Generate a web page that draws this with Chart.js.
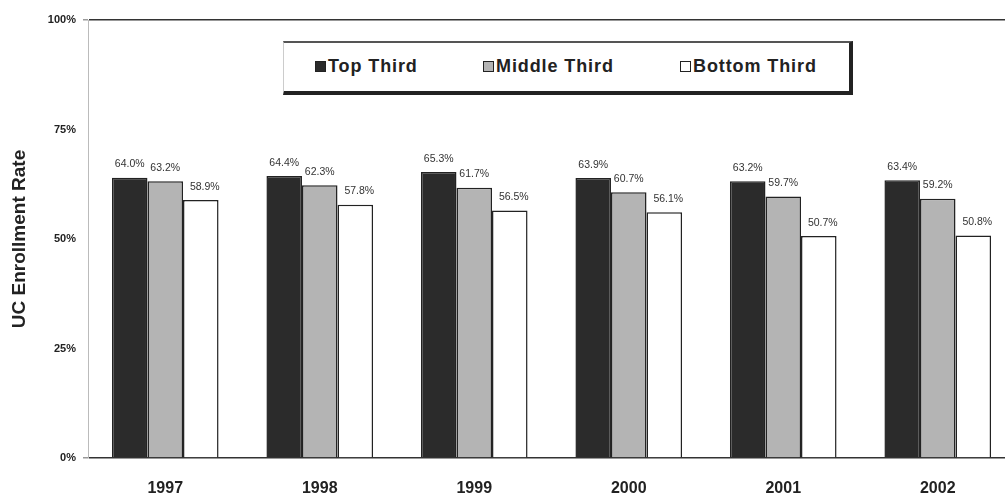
<!DOCTYPE html>
<html>
<head>
<meta charset="utf-8">
<script src="https://cdn.jsdelivr.net/npm/chart.js@4"></script>
<style>
  html, body { margin: 0; padding: 0; background: #fff; overflow: hidden; }
  #wrap { position: absolute; left: 0; top: 0; width: 1020px; height: 498px; }
  #legend {
    position: absolute; left: 283px; top: 41px; width: 565px; height: 48px;
    border-top: 2px solid #555; border-left: 1px solid #ccc;
    border-right: 4px solid #222; border-bottom: 4px solid #222;
    background: #fff; font-family: "Liberation Sans", Arial, sans-serif;
    font-weight: bold; font-size: 18px; letter-spacing: 0.9px; color: #222;
  }
  .item { position: absolute; top: 13px; display: flex; align-items: center; }
  .sw { width: 11px; height: 11px; border: 1.5px solid #222; margin-right: 2px; box-sizing: border-box; }
</style>
</head>
<body>
<div id="wrap"><canvas id="c" width="1020" height="498"></canvas></div>
<div id="legend"></div>
<script>
// Share of each high-school GPA third enrolling at UC, by year
const years = ['1997', '1998', '1999', '2000', '2001', '2002'];
const topThird = [64.0, 64.4, 65.3, 63.9, 63.2, 63.4];
const middleThird = [63.2, 62.3, 61.7, 60.7, 59.7, 59.2];
const bottomThird = [58.9, 57.8, 56.5, 56.1, 50.7, 50.8];
const yTicks = [0, 25, 50, 75, 100];

const seriesNames = ['Top Third', 'Middle Third', 'Bottom Third'];
const fills = ['#2b2b2b', '#b4b4b4', '#ffffff'];

// HTML legend in a framed box
const legendEl = document.getElementById('legend');
const legendX = [31, 199, 396];
seriesNames.forEach((name, i) => {
  const it = document.createElement('div');
  it.className = 'item';
  it.style.left = legendX[i] + 'px';
  const sw = document.createElement('span');
  sw.className = 'sw';
  sw.style.background = fills[i];
  const tx = document.createElement('span');
  tx.textContent = name;
  it.appendChild(sw);
  it.appendChild(tx);
  legendEl.appendChild(it);
});

// Value labels above each bar
const valueLabels = {
  id: 'valueLabels',
  afterDatasetsDraw(chart) {
    const ctx = chart.ctx;
    ctx.save();
    ctx.font = '10.5px "Liberation Sans", Arial, sans-serif';
    ctx.fillStyle = '#333';
    ctx.textAlign = 'center';
    ctx.textBaseline = 'bottom';
    chart.data.datasets.forEach((ds, di) => {
      const meta = chart.getDatasetMeta(di);
      meta.data.forEach((bar, i) => {
        const shift = di === 2 ? 4 : 0;
        ctx.fillText(ds.data[i].toFixed(1) + '%', bar.x + shift, bar.y - 8);
      });
    });
    ctx.restore();
  }
};

new Chart(document.getElementById('c'), {
  type: 'bar',
  data: {
    labels: years,
    datasets: [topThird, middleThird, bottomThird].map((vals, i) => ({
      label: seriesNames[i],
      data: vals,
      backgroundColor: fills[i],
      borderColor: '#222',
      borderWidth: 1.5,
      categoryPercentage: 0.69,
      barPercentage: 1.0
    }))
  },
  options: {
    responsive: false,
    animation: false,
    layout: { padding: { top: 20, right: 5, left: 0, bottom: 0 } },
    plugins: { legend: { display: false }, tooltip: { enabled: false } },
    scales: {
      x: {
        grid: { display: false, drawTicks: false },
        border: { display: false },
        ticks: {
          padding: 21,
          color: '#222',
          font: { family: '"Liberation Sans", Arial, sans-serif', size: 16, weight: 'bold' }
        },
        afterFit(axis) { axis.height = 40; }
      },
      y: {
        min: 0,
        max: 100,
        afterBuildTicks(axis) { axis.ticks = yTicks.map(v => ({ value: v })); },
        ticks: {
          padding: 7,
          color: '#222',
          font: { family: '"Liberation Sans", Arial, sans-serif', size: 11, weight: 'bold' },
          callback: v => v + '%'
        },
        grid: {
          tickLength: 5,
          tickColor: '#999',
          lineWidth: ctx => (ctx.tick && (ctx.tick.value === 0 || ctx.tick.value === 100)) ? 1.5 : 0,
          color: ctx => (ctx.tick && (ctx.tick.value === 0 || ctx.tick.value === 100)) ? '#333' : 'rgba(0,0,0,0)'
        },
        border: { display: true, color: '#bbb', width: 1 },
        title: {
          display: true,
          text: 'UC Enrollment Rate',
          color: '#222',
          font: { family: '"Liberation Sans", Arial, sans-serif', size: 19, weight: 'bold' },
          padding: { top: 8, bottom: 0 }
        },
        afterFit(axis) { axis.width = 88; }
      }
    }
  },
  plugins: [valueLabels]
});
</script>
</body>
</html>
